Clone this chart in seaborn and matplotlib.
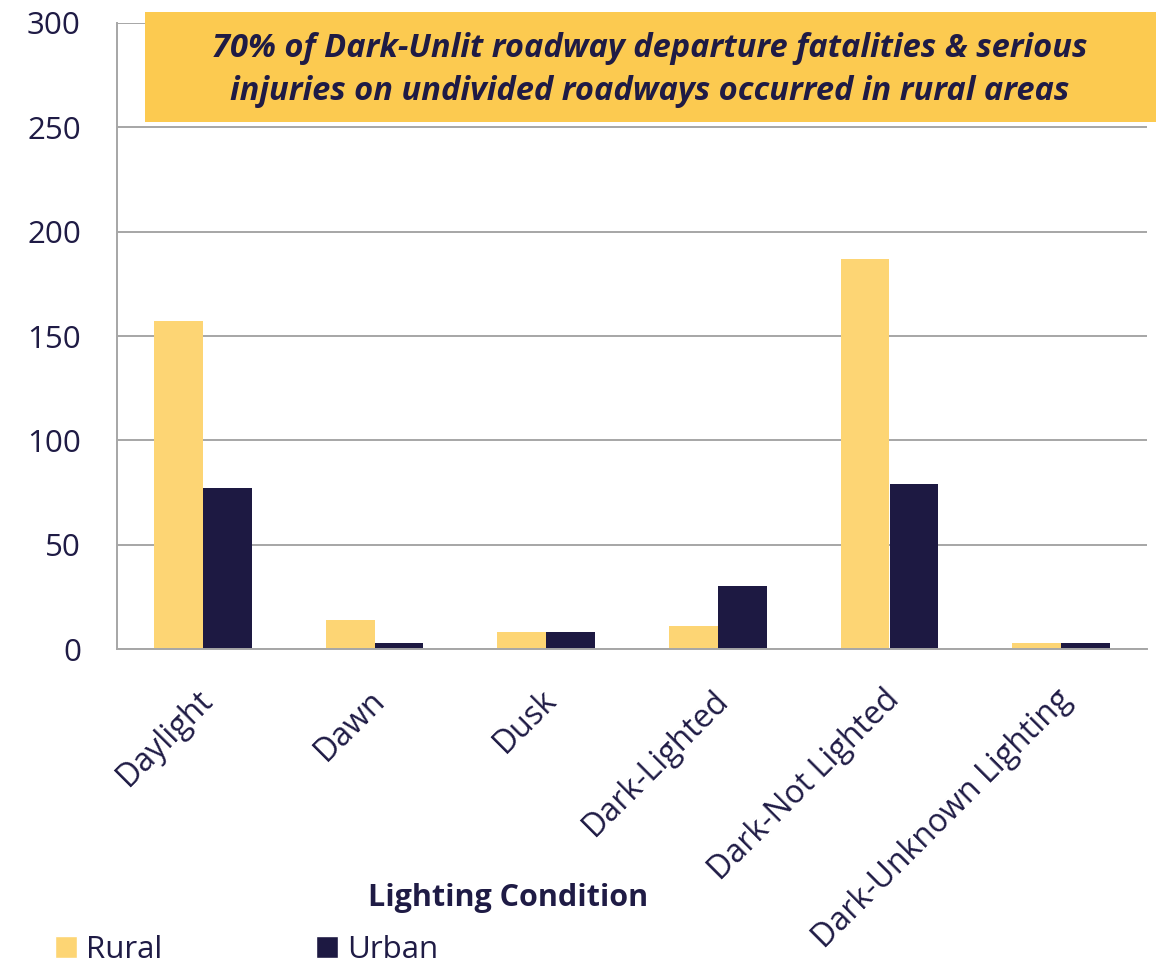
import pandas as pd
import numpy as np
import matplotlib.pyplot as plt
import matplotlib.transforms as mtransforms
import seaborn as sns
from matplotlib.patches import Patch, Rectangle

# values
conditions = ['Daylight', 'Dawn', 'Dusk', 'Dark-Lighted', 'Dark-Not Lighted', 'Dark-Unknown Lighting']
rural = [157, 14, 8, 11, 187, 3]
urban = [77, 3, 8, 30, 79, 3]
series_names = ['Rural', 'Urban']
yticks = [0, 50, 100, 150, 200, 250, 300]
headline = '70% of Dark-Unlit roadway departure fatalities & serious\ninjuries on undivided roadways occurred in rural areas'

RURAL_COLOR = '#FDD574'
URBAN_COLOR = '#1D1942'
TEXT_COLOR = '#1F1B45'
GRID_COLOR = '#A6A6A6'
BOX_COLOR = '#FCCA50'

df = pd.DataFrame({
    'Condition': conditions * 2,
    'Area': ['Rural'] * len(conditions) + ['Urban'] * len(conditions),
    'Count': rural + urban,
})

sns.set_theme(style='white')
plt.rcParams['font.family'] = ['Open Sans', 'DejaVu Sans']
plt.rcParams['text.color'] = TEXT_COLOR
plt.rcParams['xtick.color'] = GRID_COLOR
plt.rcParams['ytick.color'] = GRID_COLOR
plt.rcParams['xtick.labelcolor'] = TEXT_COLOR
plt.rcParams['ytick.labelcolor'] = TEXT_COLOR

fig = plt.figure(figsize=(11.56, 9.72), dpi=100)
ax = fig.add_axes([117 / 1156, 1 - 649 / 972, 1030 / 1156, 626 / 972])

sns.barplot(data=df, x='Condition', y='Count', hue='Area', order=conditions,
            hue_order=series_names, palette=[RURAL_COLOR, URBAN_COLOR],
            width=0.57, saturation=1, legend=False, linewidth=0, ax=ax)

ax.set_ylim(0, 300)
ax.set_xlim(-0.5, len(conditions) - 0.5)
ax.set_yticks(yticks)
ax.tick_params(axis='y', labelsize=22.5, length=9, width=1.2, pad=17)
ax.grid(axis='y', color=GRID_COLOR, linewidth=1.4)
ax.set_axisbelow(True)

# category labels at centres, tick marks at the boundaries
ax.set_xticks(range(len(conditions)))
ax.set_xticklabels(conditions, rotation=45, ha='right', va='top',
                   rotation_mode='anchor', fontsize=23)
ax.tick_params(axis='x', which='major', length=0, pad=25)
shift = mtransforms.ScaledTranslation(-6 / 100, 0, fig.dpi_scale_trans)
for lbl in ax.get_xticklabels():
    lbl.set_transform(lbl.get_transform() + shift)
ax.set_xticks(np.arange(-0.5, len(conditions)), minor=True)
ax.tick_params(axis='x', which='minor', length=9, width=1.2, color=GRID_COLOR)

ax.set_xlabel('')
ax.set_ylabel('')
for side in ['top', 'right']:
    ax.spines[side].set_visible(False)
for side in ['left', 'bottom']:
    ax.spines[side].set_color(GRID_COLOR)
    ax.spines[side].set_linewidth(1.4)

fig.text(508 / 1156, 1 - 898 / 972, 'Lighting Condition', fontsize=22,
         fontweight='bold', ha='center', va='center')

# headline box
fig.patches.append(Rectangle((145 / 1156, 1 - 122 / 972), 1012 / 1156, 110 / 972,
                             transform=fig.transFigure, facecolor=BOX_COLOR,
                             edgecolor='none', zorder=5))
fig.text(650 / 1156, 1 - 70 / 972, headline, fontsize=23.5, fontweight='bold',
         fontstyle='italic', ha='center', va='center', linespacing=1.38, zorder=6)

handles = [Patch(facecolor=RURAL_COLOR, label='Rural'),
           Patch(facecolor=URBAN_COLOR, label='Urban')]
fig.legend(handles=handles, loc='center left', bbox_to_anchor=(55 / 1156, 1 - 950 / 972),
           ncol=2, frameon=False, fontsize=22.5, handlelength=0.7, handleheight=0.7,
           handletextpad=0.3, columnspacing=4.9, borderpad=0, borderaxespad=0)

fig.savefig('out.png', dpi=100)
